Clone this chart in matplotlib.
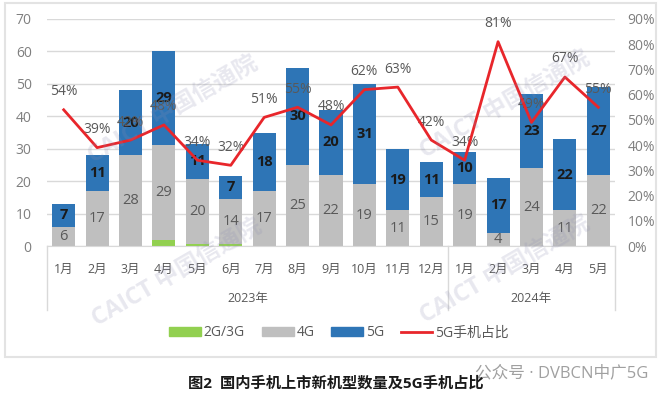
import numpy as np
import matplotlib.pyplot as plt
from matplotlib.patches import Patch, Rectangle
from matplotlib.lines import Line2D
import matplotlib.transforms as mtransforms

plt.rcParams['font.family'] = ['Open Sans', 'Noto Sans CJK SC', 'DejaVu Sans']

months = ['1月', '2月', '3月', '4月', '5月', '6月', '7月', '8月', '9月', '10月', '11月', '12月',
          '1月', '2月', '3月', '4月', '5月']
years = ['2023年', '2024年']
g23 = [0, 0, 0, 2, 0.6, 0.6, 0, 0, 0, 0, 0, 0, 0, 0, 0, 0, 0]
g4 = [6, 17, 28, 29, 20, 14, 17, 25, 22, 19, 11, 15, 19, 4, 24, 11, 22]
g5 = [7, 11, 20, 29, 11, 7, 18, 30, 20, 31, 19, 11, 10, 17, 23, 22, 27]
share = [54, 39, 42, 48, 34, 32, 51, 55, 48, 62, 63, 42, 34, 81, 49, 67, 55]

c_green = '#92d050'
c_gray = '#bfbfbf'
c_blue = '#2e75b6'
c_red = '#e8262b'
c_text = '#595959'

W, H = 664, 397
fig = plt.figure(figsize=(W / 100, H / 100), dpi=100)

# outer chart frame
fig.patches.append(Rectangle((5 / W, 1 - 357 / H), 651 / W, 354 / H, transform=fig.transFigure,
                             fill=False, edgecolor='#e3e3e3', lw=1.5))

ax = fig.add_axes([47 / W, 1 - 246 / H, 568 / W, 227 / H])
x = np.arange(len(months))
g23 = np.array(g23)
g4 = np.array(g4)
g5 = np.array(g5)
w = 0.69

ax.bar(x, g23, w, color=c_green, zorder=2)
ax.bar(x, g4, w, bottom=g23, color=c_gray, zorder=2)
ax.bar(x, g5, w, bottom=g23 + g4, color=c_blue, zorder=2)

for i in range(len(x)):
    ax.text(x[i], g23[i] + g4[i] / 2, str(g4[i]), ha='center', va='center',
            fontsize=10.5, color=c_text, zorder=3)
    ax.text(x[i], g23[i] + g4[i] + g5[i] / 2, str(g5[i]), ha='center', va='center',
            fontsize=10.5, color='#1a1a1a', fontweight='bold', zorder=3)

ax.set_xlim(-0.5, len(x) - 0.5)
ax.set_ylim(0, 70)
ax.set_yticks(range(0, 71, 10))
ax.set_xticks(x)
ax.set_xticklabels(months)
ax.tick_params(axis='x', length=0, pad=12, labelsize=9, labelcolor=c_text)
ax.tick_params(axis='y', length=0, pad=11, labelsize=10, labelcolor='#7f7f7f')
ax.yaxis.grid(True, color='#d9d9d9', lw=1, zorder=0)
ax.set_axisbelow(True)
for s in ['top', 'right', 'left']:
    ax.spines[s].set_visible(False)
ax.spines['bottom'].set_color('#d9d9d9')

# year grouping under the months
tr = mtransforms.blended_transform_factory(ax.transData, ax.transAxes)
for xs in [-0.5, 11.5, len(x) - 0.5]:
    ax.add_line(Line2D([xs, xs], [0, -0.282], transform=tr, color='#d9d9d9', lw=1, clip_on=False))
ax.text(5.5, -0.233, years[0], transform=tr, ha='center', va='center', fontsize=9, color=c_text)
ax.text(14, -0.233, years[1], transform=tr, ha='center', va='center', fontsize=9, color=c_text)

ax2 = ax.twinx()
ax2.plot(x, np.array(share) / 100, color=c_red, lw=2, zorder=4)
ax2.set_ylim(0, 0.9)
ax2.set_yticks(np.arange(0, 0.91, 0.1))
ax2.set_yticklabels([f'{v}%' for v in range(0, 91, 10)])
ax2.tick_params(axis='y', length=0, pad=9, labelsize=10, labelcolor='#7f7f7f')
for s in ['top', 'right', 'left', 'bottom']:
    ax2.spines[s].set_visible(False)
for i in range(len(x)):
    ax2.annotate(f'{share[i]}%', (x[i], share[i] / 100), xytext=(0, 13), textcoords='offset points',
                 ha='center', va='center', fontsize=10, color=c_text)

handles = [Patch(color=c_green), Patch(color=c_gray), Patch(color=c_blue),
           Line2D([], [], color=c_red, lw=2)]
fig.legend(handles, ['2G/3G', '4G', '5G', '5G手机占比'], loc='center', ncol=4,
           bbox_to_anchor=(339 / W, 1 - 333 / H), frameon=False, fontsize=10,
           labelcolor=c_text, handlelength=2.3, handleheight=0.6, handletextpad=0.2,
           columnspacing=1.2)

# watermarks
for cx, cy in [(173, 110), (505, 105), (177, 273), (505, 270)]:
    fig.text(cx / W, 1 - cy / H, 'CAICT 中国信通院', rotation=30, ha='center', va='center',
             fontsize=17, fontweight='bold', color='#8c8cb0', alpha=0.2)

fig.text(562 / W, 1 - 373 / H, '公众号 · DVBCN中广5G', ha='center', va='center',
         fontsize=12, color='#a0a0a0')
fig.text(336 / W, 1 - 383 / H, '图2  国内手机上市新机型数量及5G手机占比', ha='center', va='center',
         fontsize=11, fontweight='bold', color='#1a1a1a')

fig.savefig('out.png', dpi=100)
